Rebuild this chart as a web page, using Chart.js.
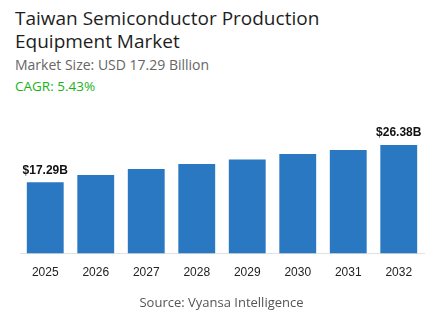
<!DOCTYPE html>
<html>
<head>
<meta charset="utf-8">
<script src="https://cdn.jsdelivr.net/npm/chart.js@4"></script>
<style>
  html, body { margin: 0; padding: 0; background: #fff; }
  body { width: 443px; height: 332px; position: relative; overflow: hidden; font-family: "Open Sans", sans-serif; }
  .title { position: absolute; left: 15px; top: 7px; font-size: 19px; line-height: 23px; color: #1e1e1e; }
  .sub { position: absolute; left: 15px; top: 55px; font-size: 14px; color: #666; }
  .cagr { position: absolute; left: 15px; top: 77px; font-size: 13.5px; color: #19b319; }
  .source { position: absolute; left: 0; width: 443px; top: 293px; text-align: center; font-size: 13px; color: #555; }
  #wrap { position: absolute; left: 0; top: 110px; width: 443px; height: 202px; }
</style>
</head>
<body>
<div class="title">Taiwan Semiconductor Production<br>Equipment Market</div>
<div class="sub">Market Size: USD 17.29 Billion</div>
<div class="cagr">CAGR: 5.43%</div>
<div id="wrap"><canvas id="marketBar"></canvas></div>
<div class="source">Source: Vyansa Intelligence</div>
<script>
const years = ["2025", "2026", "2027", "2028", "2029", "2030", "2031", "2032"];
const marketValues = [17.29, 19.09, 20.55, 21.76, 22.83, 24.19, 25.16, 26.38];
const valueLabels = ["$17.29B", "", "", "", "", "", "", "$26.38B"];

const endLabels = {
    id: "endLabels",
    afterDatasetsDraw(chart) {
        const ctx = chart.ctx;
        const meta = chart.getDatasetMeta(0);
        ctx.save();
        ctx.font = "bold 12px 'Liberation Sans', Arial, sans-serif";
        ctx.fillStyle = "#111";
        ctx.textAlign = "center";
        ctx.textBaseline = "bottom";
        meta.data.forEach((bar, i) => {
            if (valueLabels[i]) ctx.fillText(valueLabels[i], bar.x, bar.y - 6);
        });
        ctx.restore();
    }
};

new Chart(document.getElementById("marketBar"), {
    type: "bar",
    data: {
        labels: years,
        datasets: [{
            data: marketValues,
            backgroundColor: "#2b78c2",
            categoryPercentage: 1.0,
            barPercentage: 0.73
        }]
    },
    options: {
        responsive: true,
        maintainAspectRatio: false,
        animation: false,
        layout: { padding: { top: 20, left: 20, right: 19, bottom: 20 } },
        plugins: { legend: { display: false }, tooltip: { enabled: false } },
        scales: {
            x: {
                grid: { display: false, drawTicks: false },
                border: { display: true, color: "#e2e2e2" },
                ticks: {
                    padding: 12,
                    color: "#222",
                    font: { family: "'Liberation Sans', Arial, sans-serif", size: 12 }
                }
            },
            y: { display: false, min: 0, max: 30 }
        }
    },
    plugins: [endLabels]
});
</script>
</body>
</html>
